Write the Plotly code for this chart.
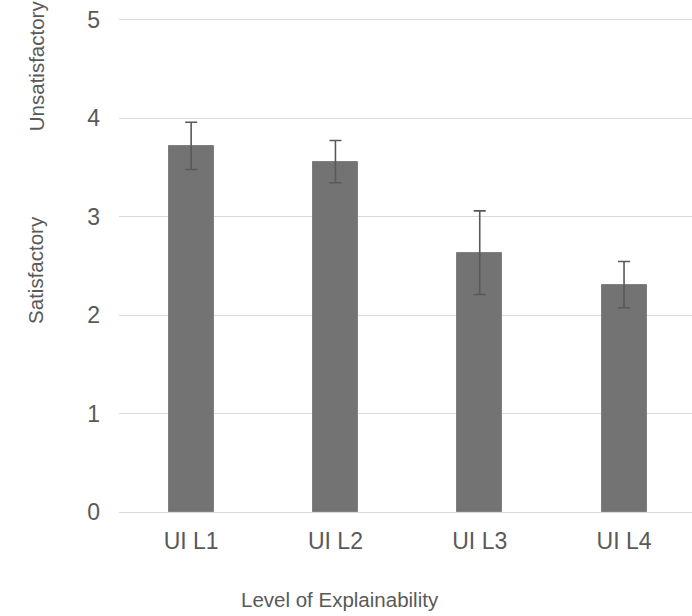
import plotly.graph_objects as go

categories = ["UI L1", "UI L2", "UI L3", "UI L4"]
means = [3.72, 3.56, 2.635, 2.31]
errors = [0.24, 0.215, 0.425, 0.235]
y_ticks = [0, 1, 2, 3, 4, 5]
x_title = "Level of Explainability"
y_title_low = "Satisfactory"
y_title_high = "Unsatisfactory"

text_color = "#595959"
font_family = "Liberation Sans, Arial, sans-serif"

W, H = 692, 616
ml = 119
y_top = 5.03
plot_bottom = 512.5
unit = 98.5
mt = plot_bottom - unit * y_top
mb = H - plot_bottom
plot_h = plot_bottom - mt
plot_w = W - ml

fig = go.Figure()
fig.add_trace(go.Bar(
    x=categories,
    y=means,
    width=0.312,
    marker=dict(color="#737373", line=dict(color="#808080", width=1)),
    error_y=dict(type="data", array=errors, visible=True,
                 color="#595959", thickness=1.6, width=6),
))

fig.update_layout(
    width=W, height=H,
    margin=dict(l=ml, r=0, t=mt, b=mb, pad=0),
    paper_bgcolor="white", plot_bgcolor="white",
    showlegend=False,
    bargap=0,
    font=dict(family=font_family, color=text_color, size=23),
    xaxis=dict(
        range=[-0.5, 3.471],
        showgrid=False, automargin=False,
        showline=True, linecolor="#d9d9d9", linewidth=1.3,
        ticks="", tickfont=dict(size=23, color=text_color),
        ticklabelstandoff=8,
        zeroline=False,
    ),
    yaxis=dict(
        range=[0, y_top], automargin=False,
        tickvals=y_ticks,
        showgrid=True, gridcolor="#d9d9d9", gridwidth=1.3,
        zeroline=False, showline=False,
        ticks="", tickfont=dict(size=23, color=text_color),
        ticklabelstandoff=18,
    ),
    annotations=[
        dict(text=x_title, xref="paper", yref="paper",
             x=(340 - ml) / plot_w, y=(plot_bottom - 600) / plot_h,
             xanchor="center", yanchor="middle", showarrow=False,
             font=dict(size=20.5, color=text_color)),
        dict(text=y_title_high, xref="paper", yref="y",
             x=(36 - ml) / plot_w, y=4.53,
             xanchor="center", yanchor="middle", textangle=-90, showarrow=False,
             font=dict(size=20.5, color=text_color)),
        dict(text=y_title_low, xref="paper", yref="y",
             x=(36 - ml) / plot_w, y=2.46,
             xanchor="center", yanchor="middle", textangle=-90, showarrow=False,
             font=dict(size=20.5, color=text_color)),
    ],
)

fig.write_html("out.html", config={"displayModeBar": False},
               post_script="document.body.style.margin='0px';")
